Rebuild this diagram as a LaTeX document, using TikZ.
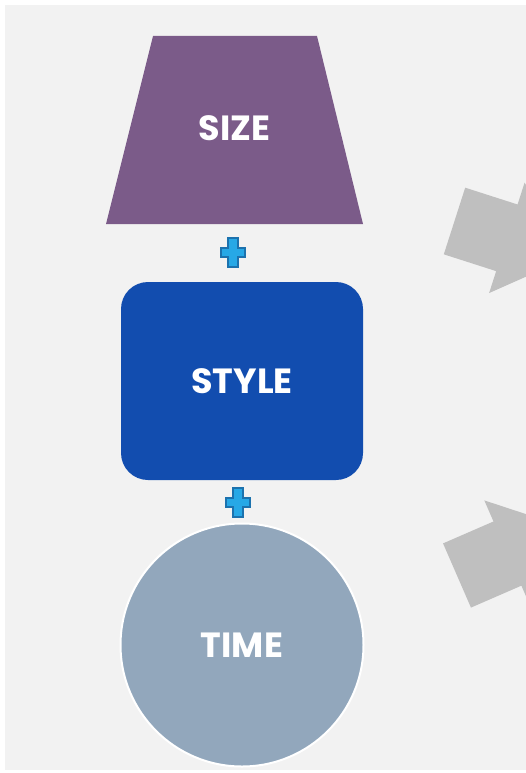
\documentclass[tikz,border=0pt]{standalone}
\usepackage{fontspec}
\setmainfont{Poppins}
\usetikzlibrary{calc}
\definecolor{bg}{HTML}{F2F2F2}
\definecolor{sizecol}{HTML}{7B5B89}
\definecolor{stylecol}{HTML}{124DAF}
\definecolor{timecol}{HTML}{92A7BC}
\definecolor{arrowcol}{HTML}{BFBFBF}
\definecolor{plusfill}{HTML}{27A8E6}
\definecolor{plusline}{HTML}{1C72AE}
\tikzset{
  label text/.style={text=white, font=\bfseries\fontsize{35}{38}\selectfont},
  block arrow/.style={fill=arrowcol, draw=none},
  plussign/.pic={
    \path[fill=plusfill, draw=plusline, line width=2pt, line join=miter]
      (-4.6,-14.5) -- (4.6,-14.5) -- (4.6,-4.6) -- (12.2,-4.6) -- (12.2,4.6) -- (4.6,4.6)
      -- (4.6,14.5) -- (-4.6,14.5) -- (-4.6,4.6) -- (-12.2,4.6) -- (-12.2,-4.6) -- (-4.6,-4.6) -- cycle;
  },
  arrowshape/.pic={
    \path[block arrow] (0,-35) -- (55,-35) -- (55,-58) -- (120,0) -- (55,58) -- (55,35) -- (0,35) -- cycle;
  }
}
\begin{document}
\begin{tikzpicture}[x=1pt, y=-1pt]
\useasboundingbox (0,0) rectangle (526,773);
\fill[white] (0,0) rectangle (526,773);
\fill[bg] (5,5) rectangle (526,770);

% arrows (clipped by the picture edge)
\begin{scope}
  \clip (5,5) rectangle (526,770);
  \coordinate (a1) at (454.5,221);
  \coordinate (a2) at (457,575.5);
  \pic[shift={(a1)}, rotate=-17.8] {arrowshape};
  \pic[shift={(a2)}, rotate=23.5] {arrowshape};
\end{scope}

% SIZE trapezoid
\coordinate (s1) at (153,36);
\coordinate (s2) at (317,36);
\coordinate (s3) at (363,224);
\coordinate (s4) at (106,224);
\fill[sizecol] (s1) -- (s2) -- (s3) -- (s4) -- cycle;
\node[label text] (size) at (234.5,128) {SIZE};

% STYLE rounded rectangle
\node[fill=stylecol, rounded corners=27pt, minimum width=242pt, minimum height=198pt,
      inner sep=0pt, label text] (style) at (242,381) {STYLE};

% TIME circle
\node[circle, fill=timecol, draw=white, line width=2pt, minimum size=243pt,
      inner sep=0pt, label text] (time) at (242,645) {TIME};

% plus signs
\coordinate (p1) at (233,252.8);
\coordinate (p2) at (238,502.5);
\pic at (p1) {plussign};
\pic at (p2) {plussign};
\end{tikzpicture}
\end{document}
